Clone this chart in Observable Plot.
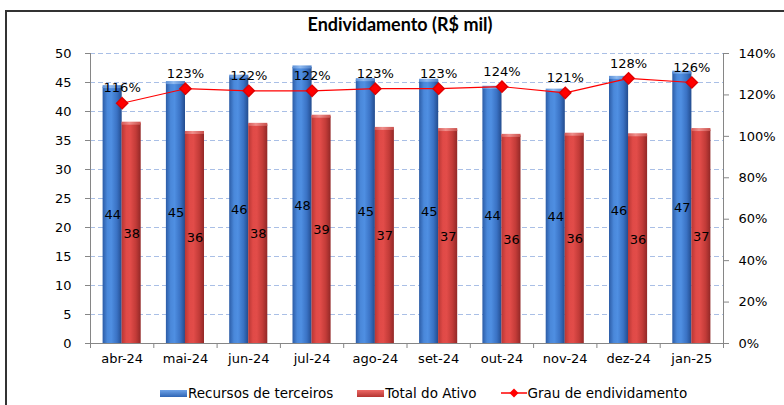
<!DOCTYPE html>
<html><head><meta charset="utf-8">
<script src="https://cdn.jsdelivr.net/npm/d3@7"></script>
<script src="https://cdn.jsdelivr.net/npm/@observablehq/plot@0.6"></script>
<style>
html,body{margin:0;padding:0;background:#fff;overflow:hidden;width:784px;height:405px;}
#wrap{position:relative;width:784px;height:405px;}
#frame{position:absolute;left:5px;top:10px;width:800px;height:420px;border:2px solid #333;box-sizing:border-box;}
#title{position:absolute;left:0;width:800px;top:13px;text-align:center;font:bold 18px Lato, "Open Sans", sans-serif;color:#000;}
#chart{position:absolute;left:0;top:0;}
#legend{position:absolute;top:385px;left:160px;display:flex;align-items:center;font:13.5px "DejaVu Sans", sans-serif;color:#000;white-space:nowrap;}
.sw{display:inline-block;width:27px;height:7px;margin-right:1px;}
.item{display:flex;align-items:center;margin-right:24px;}
</style></head>
<body><div id="wrap"><div id="frame"></div><div id="chart"></div><div id="title">Endividamento (R$ mil)</div>
<div id="legend">
<span class="item"><span class="sw" style="background:linear-gradient(to bottom,#6fa3e8,#2f65b5)"></span>Recursos de terceiros</span>
<span class="item"><span class="sw" style="background:linear-gradient(to bottom,#ee6a66,#b53431)"></span>Total do Ativo</span>
<span class="item"><svg width="26" height="12" style="margin-right:1px"><line x1="0" y1="6" x2="26" y2="6" stroke="#ff0000" stroke-width="1.5"/><path d="M13,1.5 L17.5,6 L13,10.5 L8.5,6Z" fill="#ff0000"/></svg>Grau de endividamento</span>
</div></div>
<script>
const months = ["abr-24","mai-24","jun-24","jul-24","ago-24","set-24","out-24","nov-24","dez-24","jan-25"];
const recursos = [44.2,44.9,46.0,47.6,45.4,45.3,44.1,43.6,45.8,46.7];
const ativo = [37.9,36.3,37.7,39.1,37.0,36.8,35.8,36.0,35.9,36.8];
const grau = [116,123,122,122,123,123,124,121,128,126];
const leftTicks = [0,5,10,15,20,25,30,35,40,45,50];
const rightTicks = [0,20,40,60,80,100,120,140];

const k = 50/140;
const idx = months.map((m,i)=>i);
const gray = "#868686";

const plot = Plot.plot({
  width: 784, height: 405,
  marginLeft: 90, marginRight: 61, marginTop: 53, marginBottom: 62,
  style: {fontFamily: "DejaVu Sans, sans-serif", fontSize: "13px", color: "#000", background: "transparent"},
  x: {type: "linear", domain: [0, 10], axis: null},
  y: {domain: [0, 50], axis: null},
  marks: [
    Plot.ruleY(leftTicks.filter(t => t > 0), {stroke: "#a9bfe6", strokeDasharray: "5,3", strokeWidth: 1}),
    Plot.rectY(idx, {x1: i => i, x2: i => i + 1, y1: 0, y2: i => recursos[i], insetLeft: 12.6, insetRight: 31.6, fill: "url(#gBlue)"}),
    Plot.rectY(idx, {x1: i => i, x2: i => i + 1, y1: i => recursos[i], y2: i => recursos[i], insetLeft: 12.6, insetRight: 31.6, insetTop: -1.5, insetBottom: -1.5, fill: "url(#gBlueTop)"}),
    Plot.rectY(idx, {x1: i => i, x2: i => i + 1, y1: 0, y2: i => ativo[i], insetLeft: 31.6, insetRight: 12.6, fill: "url(#gRed)"}),
    Plot.rectY(idx, {x1: i => i, x2: i => i + 1, y1: i => ativo[i], y2: i => ativo[i], insetLeft: 31.6, insetRight: 12.6, insetTop: -1.5, insetBottom: -1.5, fill: "url(#gRedTop)"}),
    Plot.text(idx, {x: i => i + 0.5, y: i => recursos[i] / 2, dx: -9.5, text: i => String(Math.round(recursos[i])), fill: "#000"}),
    Plot.text(idx, {x: i => i + 0.5, y: i => ativo[i] / 2, dx: 9.5, text: i => String(Math.round(ativo[i])), fill: "#000"}),
    Plot.ruleX([0, 10], {stroke: gray}),
    Plot.ruleY([0], {stroke: gray}),
    Plot.axisY(leftTicks, {anchor: "left", tickSize: 5, tickPadding: 14, stroke: gray, fill: "#000", label: null, tickFormat: d => String(d)}),
    Plot.axisY(rightTicks.map(p => p * k), {anchor: "right", tickSize: 5, tickPadding: 10, stroke: gray, fill: "#000", label: null, tickFormat: d => Math.round(d / k) + "%"}),
    Plot.axisX(d3.range(0, 11), {anchor: "bottom", tickSize: 5, tickFormat: () => "", stroke: gray, label: null}),
    Plot.axisX(idx.map(i => i + 0.5), {anchor: "bottom", tickSize: 0, tickPadding: 10, tickFormat: d => months[Math.floor(d)], fill: "#000", label: null}),
    Plot.line(idx, {x: i => i + 0.5, y: i => grau[i] * k, stroke: "#ff0000", strokeWidth: 1.2}),
    Plot.dot(idx, {x: i => i + 0.5, y: i => grau[i] * k, symbol: "diamond2", r: 5, fill: "#ff0000", stroke: "#e00000"}),
    Plot.text(idx, {x: i => i + 0.5, y: i => grau[i] * k, dy: -15, text: i => grau[i] + "%", fill: "#000"})
  ]
});

const svg = d3.select(plot);
const defs = svg.insert("defs", ":first-child");
function grad(id, stops) {
  const g = defs.append("linearGradient").attr("id", id).attr("x1", "0").attr("x2", "1").attr("y1", "0").attr("y2", "0");
  stops.forEach(([o, c]) => g.append("stop").attr("offset", o).attr("stop-color", c));
}
grad("gBlue", [[0, "#2c5ca6"], [0.25, "#4a88da"], [0.45, "#4f8fe2"], [0.75, "#3a72c4"], [1, "#234c8e"]]);
grad("gRed", [[0, "#b83634"], [0.25, "#e04a47"], [0.45, "#e24c49"], [0.75, "#c23b38"], [1, "#922827"]]);
grad("gBlueTop", [[0, "#5b8fd6"], [0.4, "#8fbaf0"], [1, "#4c7fc8"]]);
grad("gRedTop", [[0, "#d65b58"], [0.4, "#f08f8c"], [1, "#c8504c"]]);

document.getElementById("chart").appendChild(plot);
</script></body></html>
